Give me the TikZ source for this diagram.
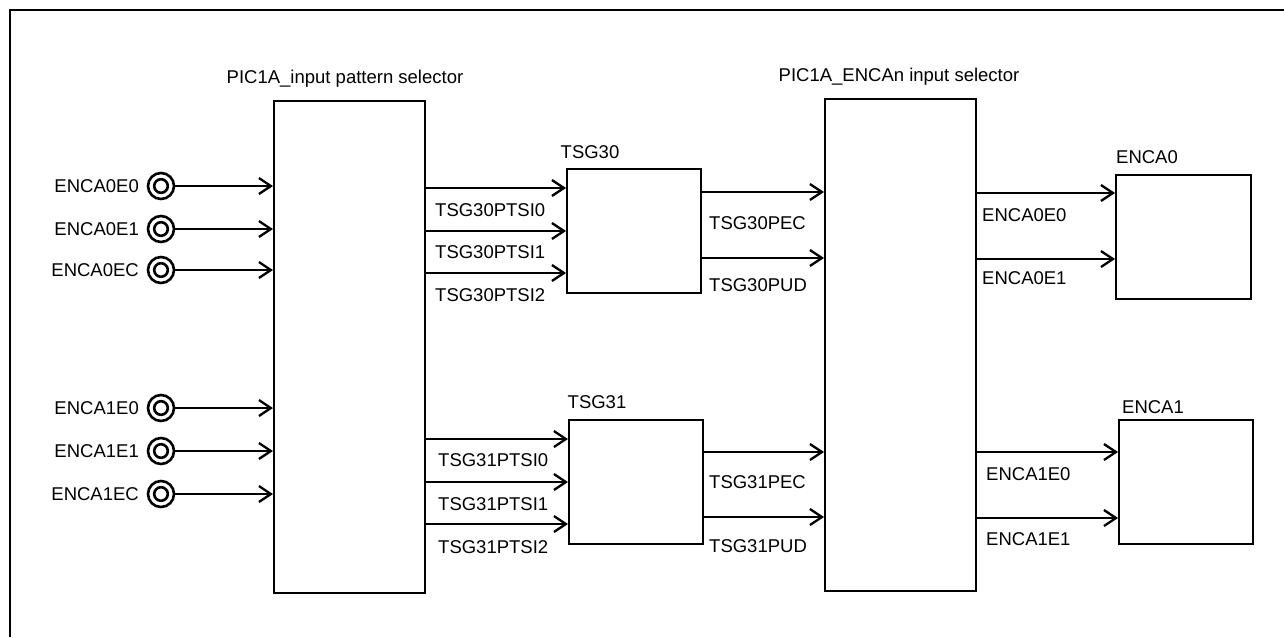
\documentclass[tikz,border=0pt]{standalone}
\usepackage{fontspec}
\setmainfont{Liberation Sans}
\usetikzlibrary{arrows.meta}
\begin{document}
\begin{tikzpicture}[x=1pt,y={(0pt,-1pt)},
  blk/.style={draw, line width=1.8pt, inner sep=0pt, anchor=north west},
  lbl/.style={font=\fontsize{18.5}{21}\selectfont, inner sep=0pt},
  sig/.style={line width=2.3pt, -{Straight Barb[length=12pt,width=16pt,line width=2.3pt]}},
  port/.style={circle, draw, line width=2.6pt, minimum size=26pt, inner sep=0pt,
    path picture={\draw[line width=2.6pt] (path picture bounding box.center) circle (6.8pt);}},
  frame/.style={line width=2.8pt}]
\useasboundingbox (0,0) rectangle (1284,637);
% frame (left and top only)
\coordinate (fTL) at (10,10);
\coordinate (fTR) at (1284,10);
\coordinate (fBL) at (10,637);
\draw[frame] (fBL) -- (fTL) -- (fTR);

% main blocks
\node[blk, minimum width=151pt, minimum height=492pt] (sel) at (273,100) {};
\node[blk, minimum width=151pt, minimum height=492pt] (enc) at (824,98) {};
\node[blk, minimum width=134pt, minimum height=124pt] (tsg30) at (566,168) {};
\node[blk, minimum width=134pt, minimum height=124pt] (tsg31) at (568,419) {};
\node[blk, minimum width=135pt, minimum height=124pt] (ea0) at (1115,174) {};
\node[blk, minimum width=134pt, minimum height=124pt] (ea1) at (1118,419) {};

% titles
\node[lbl, anchor=base] (tsel) at (345,83) {PIC1A\_input pattern selector};
\node[lbl, anchor=base] (tenc) at (899,81) {PIC1A\_ENCAn input selector};
\node[lbl, anchor=base] (t30) at (590,158) {TSG30};
\node[lbl, anchor=base] (t31) at (597,408) {TSG31};
\node[lbl, anchor=base] (te0) at (1147,163) {ENCA0};
\node[lbl, anchor=base] (te1) at (1153,413) {ENCA1};

% input ports
\foreach \nm/\txt/\yy in {p1/ENCA0E0/186, p2/ENCA0E1/229, p3/ENCA0EC/270,
                          p4/ENCA1E0/408, p5/ENCA1E1/451, p6/ENCA1EC/494}{
  \node[port] (\nm) at (161,\yy) {};
  \node[lbl, anchor=base east] (\nm l) at (139,\yy+6) {\txt};
  \coordinate (\nm e) at (sel.west |- \nm);
  \draw[sig] (\nm.east) -- (\nm e);
}

% selector -> TSG30
\foreach \nm/\txt/\yy/\ly in {a1/TSG30PTSI0/188/210, a2/TSG30PTSI1/231/252, a3/TSG30PTSI2/273/295}{
  \coordinate (\nm s) at (sel.east |- 0,\yy);
  \coordinate (\nm e) at (tsg30.west |- 0,\yy);
  \draw[sig] (\nm s) -- (\nm e);
  \node[lbl, anchor=base west] (\nm l) at (435,\ly+6) {\txt};
}
% selector -> TSG31
\foreach \nm/\txt/\yy/\ly in {b1/TSG31PTSI0/439/460, b2/TSG31PTSI1/482/504, b3/TSG31PTSI2/524/547}{
  \coordinate (\nm s) at (sel.east |- 0,\yy);
  \coordinate (\nm e) at (tsg31.west |- 0,\yy);
  \draw[sig] (\nm s) -- (\nm e);
  \node[lbl, anchor=base west] (\nm l) at (438,\ly+6) {\txt};
}
% TSG30 -> ENCAn selector
\foreach \nm/\txt/\yy/\ly in {c1/TSG30PEC/192/223, c2/TSG30PUD/258/285}{
  \coordinate (\nm s) at (tsg30.east |- 0,\yy);
  \coordinate (\nm e) at (enc.west |- 0,\yy);
  \draw[sig] (\nm s) -- (\nm e);
  \node[lbl, anchor=base west] (\nm l) at (709,\ly+6) {\txt};
}
% TSG31 -> ENCAn selector
\foreach \nm/\txt/\yy/\ly in {d1/TSG31PEC/452/482, d2/TSG31PUD/517/546}{
  \coordinate (\nm s) at (tsg31.east |- 0,\yy);
  \coordinate (\nm e) at (enc.west |- 0,\yy);
  \draw[sig] (\nm s) -- (\nm e);
  \node[lbl, anchor=base west] (\nm l) at (709,\ly+6) {\txt};
}
% ENCAn selector -> ENCA0
\foreach \nm/\txt/\yy/\ly in {e1/ENCA0E0/193/215, e2/ENCA0E1/259/278}{
  \coordinate (\nm s) at (enc.east |- 0,\yy);
  \coordinate (\nm e) at (ea0.west |- 0,\yy);
  \draw[sig] (\nm s) -- (\nm e);
  \node[lbl, anchor=base west] (\nm l) at (982,\ly+6) {\txt};
}
% ENCAn selector -> ENCA1
\foreach \nm/\txt/\yy/\ly in {f1/ENCA1E0/452/474, f2/ENCA1E1/518/539}{
  \coordinate (\nm s) at (enc.east |- 0,\yy);
  \coordinate (\nm e) at (ea1.west |- 0,\yy);
  \draw[sig] (\nm s) -- (\nm e);
  \node[lbl, anchor=base west] (\nm l) at (986,\ly+6) {\txt};
}
\end{tikzpicture}
\end{document}
